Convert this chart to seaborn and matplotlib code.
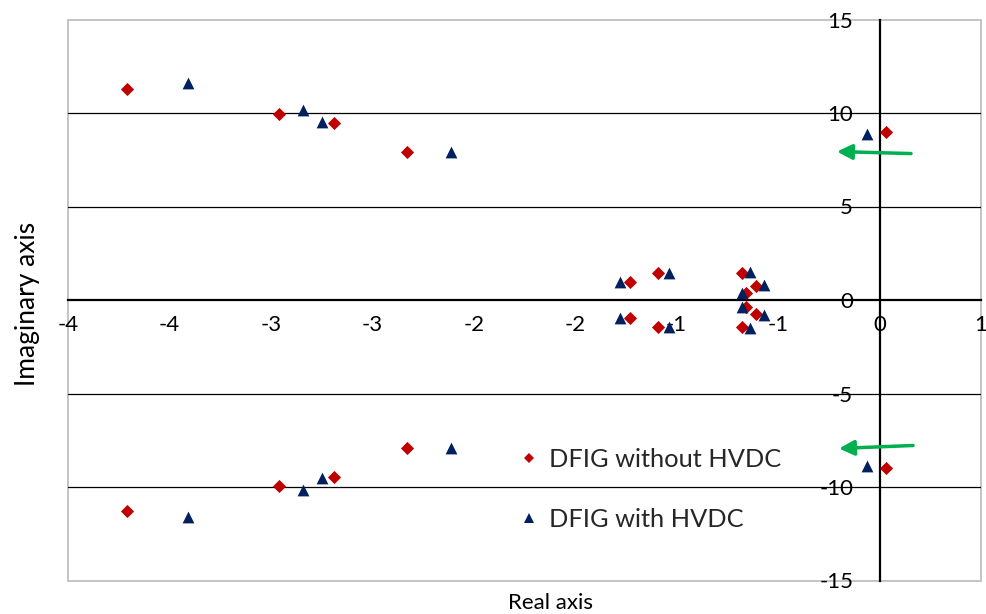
import matplotlib
matplotlib.use("Agg")
import matplotlib.pyplot as plt
from matplotlib.lines import Line2D
from matplotlib.patches import Rectangle
import numpy as np
import pandas as pd
import seaborn as sns

# Eigenvalues (real, imaginary) for the two system configurations
real_without = [-3.71, -2.96, -2.69, -2.33, 0.03, -1.23, -1.09, -0.68, -0.61, -0.66,
                -3.71, -2.96, -2.69, -2.33, 0.03, -1.23, -1.09, -0.68, -0.61, -0.66]
imag_without = [11.30, 9.97, 9.44, 7.94, 8.98, 0.98, 1.45, 1.45, 0.75, 0.38,
                -11.30, -9.97, -9.44, -7.94, -8.98, -0.98, -1.45, -1.45, -0.75, -0.38]

real_with = [-3.41, -2.84, -2.75, -2.11, -0.06, -1.28, -1.04, -0.64, -0.57, -0.68,
             -3.41, -2.84, -2.75, -2.11, -0.06, -1.28, -1.04, -0.64, -0.57, -0.68]
imag_with = [11.58, 10.16, 9.52, 7.94, 8.90, 0.98, 1.47, 1.50, 0.78, 0.36,
             -11.58, -10.16, -9.52, -7.94, -8.90, -0.98, -1.47, -1.50, -0.78, -0.36]

series_names = ["DFIG without HVDC", "DFIG with HVDC"]

x_ticks = [-4, -3.5, -3, -2.5, -2, -1.5, -1, -0.5, 0, 0.5]
x_tick_labels = ["-4", "-4", "-3", "-3", "-2", "-2", "-1", "-1", "0", "1"]
y_ticks = [-15, -10, -5, 0, 5, 10, 15]

# Arrows marking the critical mode shift: (tail_x, tail_y, head_x, head_y)
mode_arrows = [(0.155, 7.83, -0.21, 7.94), (0.165, -7.78, -0.20, -7.94)]

df = pd.DataFrame({
    "Real": real_without + real_with,
    "Imag": imag_without + imag_with,
    "Case": [series_names[0]] * len(real_without) + [series_names[1]] * len(real_with),
})

sns.set_style("white")
FONT = ["Lato", "DejaVu Sans"]
plt.rcParams["font.family"] = FONT
plt.rcParams["axes.unicode_minus"] = False

W, H = 986, 614
fig = plt.figure(figsize=(W / 100, H / 100), dpi=100)
ax_l, ax_r, ax_t, ax_b = 68, 981, 19.5, 580.5
ax = fig.add_axes([ax_l / W, 1 - ax_b / H, (ax_r - ax_l) / W, (ax_b - ax_t) / H])
aw, ah = ax_r - ax_l, ax_b - ax_t

red = "#C00000"
navy = "#002060"

sns.scatterplot(data=df[df["Case"] == series_names[0]], x="Real", y="Imag",
                marker="D", color=red, s=45, linewidth=0, ax=ax, legend=False, zorder=4)
sns.scatterplot(data=df[df["Case"] == series_names[1]], x="Real", y="Imag",
                marker="^", color=navy, s=72, linewidth=0, ax=ax, legend=False, zorder=5)

ax.set_xlim(-4, 0.5)
ax.set_ylim(-15, 15)

# Horizontal major gridlines
for yv in [-10, -5, 5, 10]:
    ax.axhline(yv, color="black", lw=0.9, zorder=1)

# Axes crossing at the origin
for side in ["top", "right"]:
    ax.spines[side].set_visible(False)
for side in ["left", "bottom"]:
    ax.spines[side].set_position(("data", 0))
    ax.spines[side].set_color("black")
    ax.spines[side].set_linewidth(1.6)
    ax.spines[side].set_zorder(2)

# Light grey plot-area frame
ax.add_patch(Rectangle((0, 0), 1, 1, transform=ax.transAxes, fill=False,
                       edgecolor="#BFBFBF", lw=1.3, clip_on=False, zorder=0))

ax.set_xticks(x_ticks)
ax.set_xticklabels(x_tick_labels)
ax.set_yticks(y_ticks)
ax.tick_params(axis="both", direction="out", length=5, width=1.2, color="black",
               labelsize=16, labelcolor="black")
ax.tick_params(axis="x", pad=6)
ax.tick_params(axis="y", pad=14)

ax.set_xlabel("Real axis", fontsize=16, color="black")
ax.set_ylabel("Imaginary axis", fontsize=19, color="black")
ax.xaxis.label.set_va("center")
ax.yaxis.label.set_va("center")
ax.xaxis.set_label_coords((550 - ax_l) / aw, -(603 - ax_b) / ah)
ax.yaxis.set_label_coords(-(ax_l - 27.5) / aw, (ax_b - 304) / ah)

for tx, ty, hx, hy in mode_arrows:
    ax.annotate("", xy=(hx, hy), xytext=(tx, ty),
                arrowprops=dict(arrowstyle="-|>,head_length=0.9,head_width=0.45",
                                color="#00B050", lw=2.5, shrinkA=0, shrinkB=0),
                zorder=6)

handles = [
    Line2D([], [], marker="D", color=red, linestyle="none", markersize=5.5, markeredgewidth=0),
    Line2D([], [], marker="^", color=navy, linestyle="none", markersize=7, markeredgewidth=0),
]
ax.legend(handles, series_names, loc="center left",
          bbox_to_anchor=((520 - ax_l) / aw, (ax_b - 489.5) / ah),
          frameon=False, fontsize=18.3, handlelength=0.7, handletextpad=0.45,
          labelspacing=1.45, borderpad=0, borderaxespad=0)

fig.savefig("out.png", dpi=100)
